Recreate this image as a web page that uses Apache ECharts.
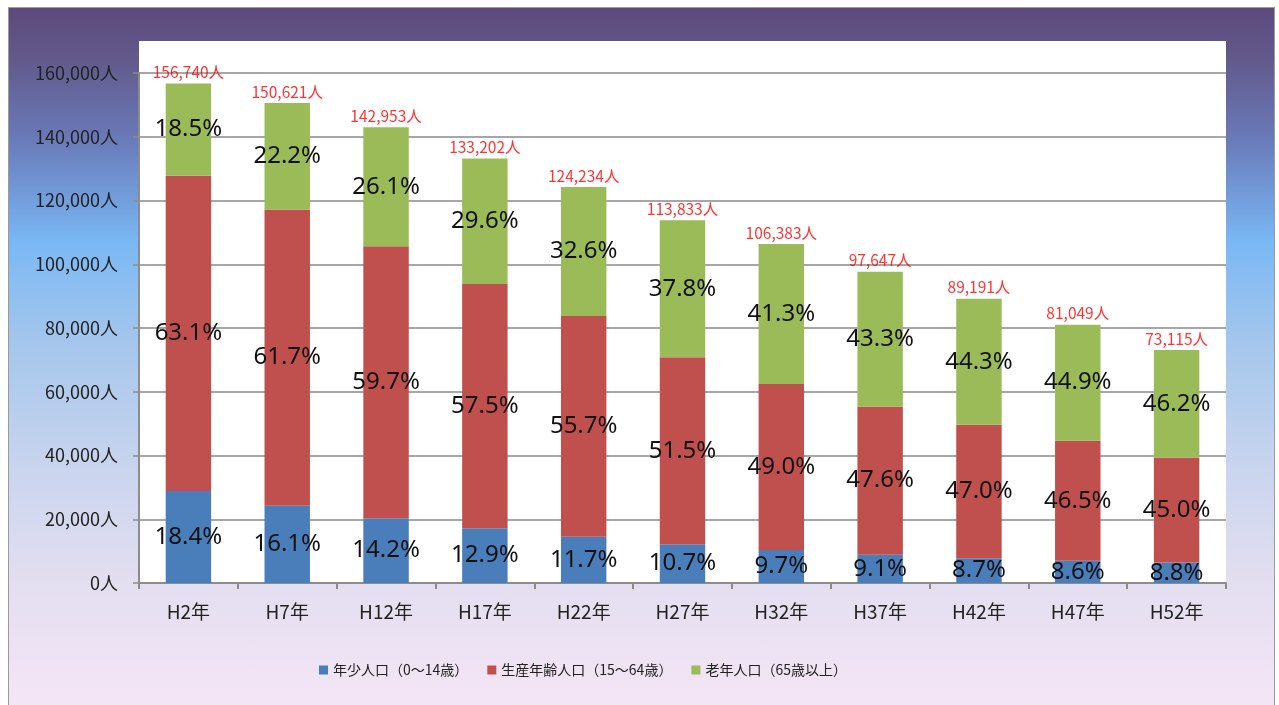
<!DOCTYPE html>
<html><head><meta charset="utf-8">
<script src="https://cdn.jsdelivr.net/npm/echarts@6/dist/echarts.min.js"></script>
<style>
html,body{margin:0;padding:0;width:1279px;height:705px;overflow:hidden;background:#fff;}
#frame{position:absolute;left:8px;top:7px;width:1265px;height:710px;border:1px solid #9a9a9a;
background:linear-gradient(to bottom,#5c4a7c 0%,#62598a 7%,#6a78b6 18%,#74a2e0 28%,#7ab8f4 33%,#a4c6ec 47%,#c8d4ee 64%,#e2def0 80%,#f6e6f6 100%);}
#plot{position:absolute;left:139px;top:41px;width:1087px;height:542px;background:#fff;}
#chart{position:absolute;left:0;top:0;width:1279px;height:705px;}
</style></head>
<body>
<div id="frame"></div><div id="plot"></div><div id="chart"></div>
<script>
const categories = ['H2年','H7年','H12年','H17年','H22年','H27年','H32年','H37年','H42年','H47年','H52年'];
const totals = [156740,150621,142953,133202,124234,113833,106383,97647,89191,81049,73115];
const young = [28840,24250,20299,17183,14535,12180,10319,8886,7760,6970,6434];
const working = [98903,92933,85343,76591,69199,58624,52128,46480,41919,37688,32902];
const old = [28997,33438,37311,39428,40500,43029,43936,42281,39512,36391,33779];
const youngPct = ['18.4%','16.1%','14.2%','12.9%','11.7%','10.7%','9.7%','9.1%','8.7%','8.6%','8.8%'];
const workingPct = ['63.1%','61.7%','59.7%','57.5%','55.7%','51.5%','49.0%','47.6%','47.0%','46.5%','45.0%'];
const oldPct = ['18.5%','22.2%','26.1%','29.6%','32.6%','37.8%','41.3%','43.3%','44.3%','44.9%','46.2%'];
const seriesNames = ['年少人口（0～14歳）','生産年齢人口（15～64歳）','老年人口（65歳以上）'];

const chart = echarts.init(document.getElementById('chart'), null, {renderer:'canvas'});
const pctLabel = (arr) => ({show:true, position:'inside', color:'#111', fontSize:24,
  fontFamily:'Noto Sans, sans-serif', formatter:(p)=>arr[p.dataIndex]});
chart.setOption({
  backgroundColor:'transparent',
  animation:false,
  grid:{left:139,right:53,top:73,bottom:122},
  legend:{data:seriesNames, left:314, top:658, itemWidth:9, itemHeight:9, itemGap:19,
    icon:'rect', textStyle:{fontSize:14, color:'#222', fontFamily:'Noto Sans CJK JP'}},
  xAxis:{type:'category', data:categories,
    axisLine:{lineStyle:{color:'#8c8c8c', width:2}},
    axisTick:{show:true, length:6, lineStyle:{color:'#8c8c8c', width:2}},
    axisLabel:{fontSize:19, color:'#222', margin:19, fontFamily:'Noto Sans CJK JP'}},
  yAxis:{type:'value', min:0, max:160000, interval:20000,
    axisLine:{show:true, lineStyle:{color:'#8c8c8c', width:2}},
    axisTick:{show:true, length:6, lineStyle:{color:'#8c8c8c', width:1.5}},
    splitLine:{lineStyle:{color:'#8a8a8a', width:1.5}},
    axisLabel:{fontSize:18, color:'#222', margin:21, fontFamily:'Noto Sans CJK JP',
      formatter:(v)=>v.toLocaleString('en-US')+'人'}},
  series:[
    {name:seriesNames[0], type:'bar', stack:'pop', data:young, barWidth:'46%',
      itemStyle:{color:'#4a7ebb'}, label:pctLabel(youngPct)},
    {name:seriesNames[1], type:'bar', stack:'pop', data:working,
      itemStyle:{color:'#c0504d'}, label:pctLabel(workingPct)},
    {name:seriesNames[2], type:'bar', stack:'pop', data:old,
      itemStyle:{color:'#9bbb59'}, label:pctLabel(oldPct)},
    {name:'total', type:'scatter', data:totals, symbolSize:1, itemStyle:{color:'transparent'},
      label:{show:true, position:'top', distance:3, color:'#ff0000', fontSize:15.5,
        fontFamily:'Noto Sans CJK JP', formatter:(p)=>p.value.toLocaleString('en-US')+'人'}, z:5}
  ]
});
</script>
</body></html>
